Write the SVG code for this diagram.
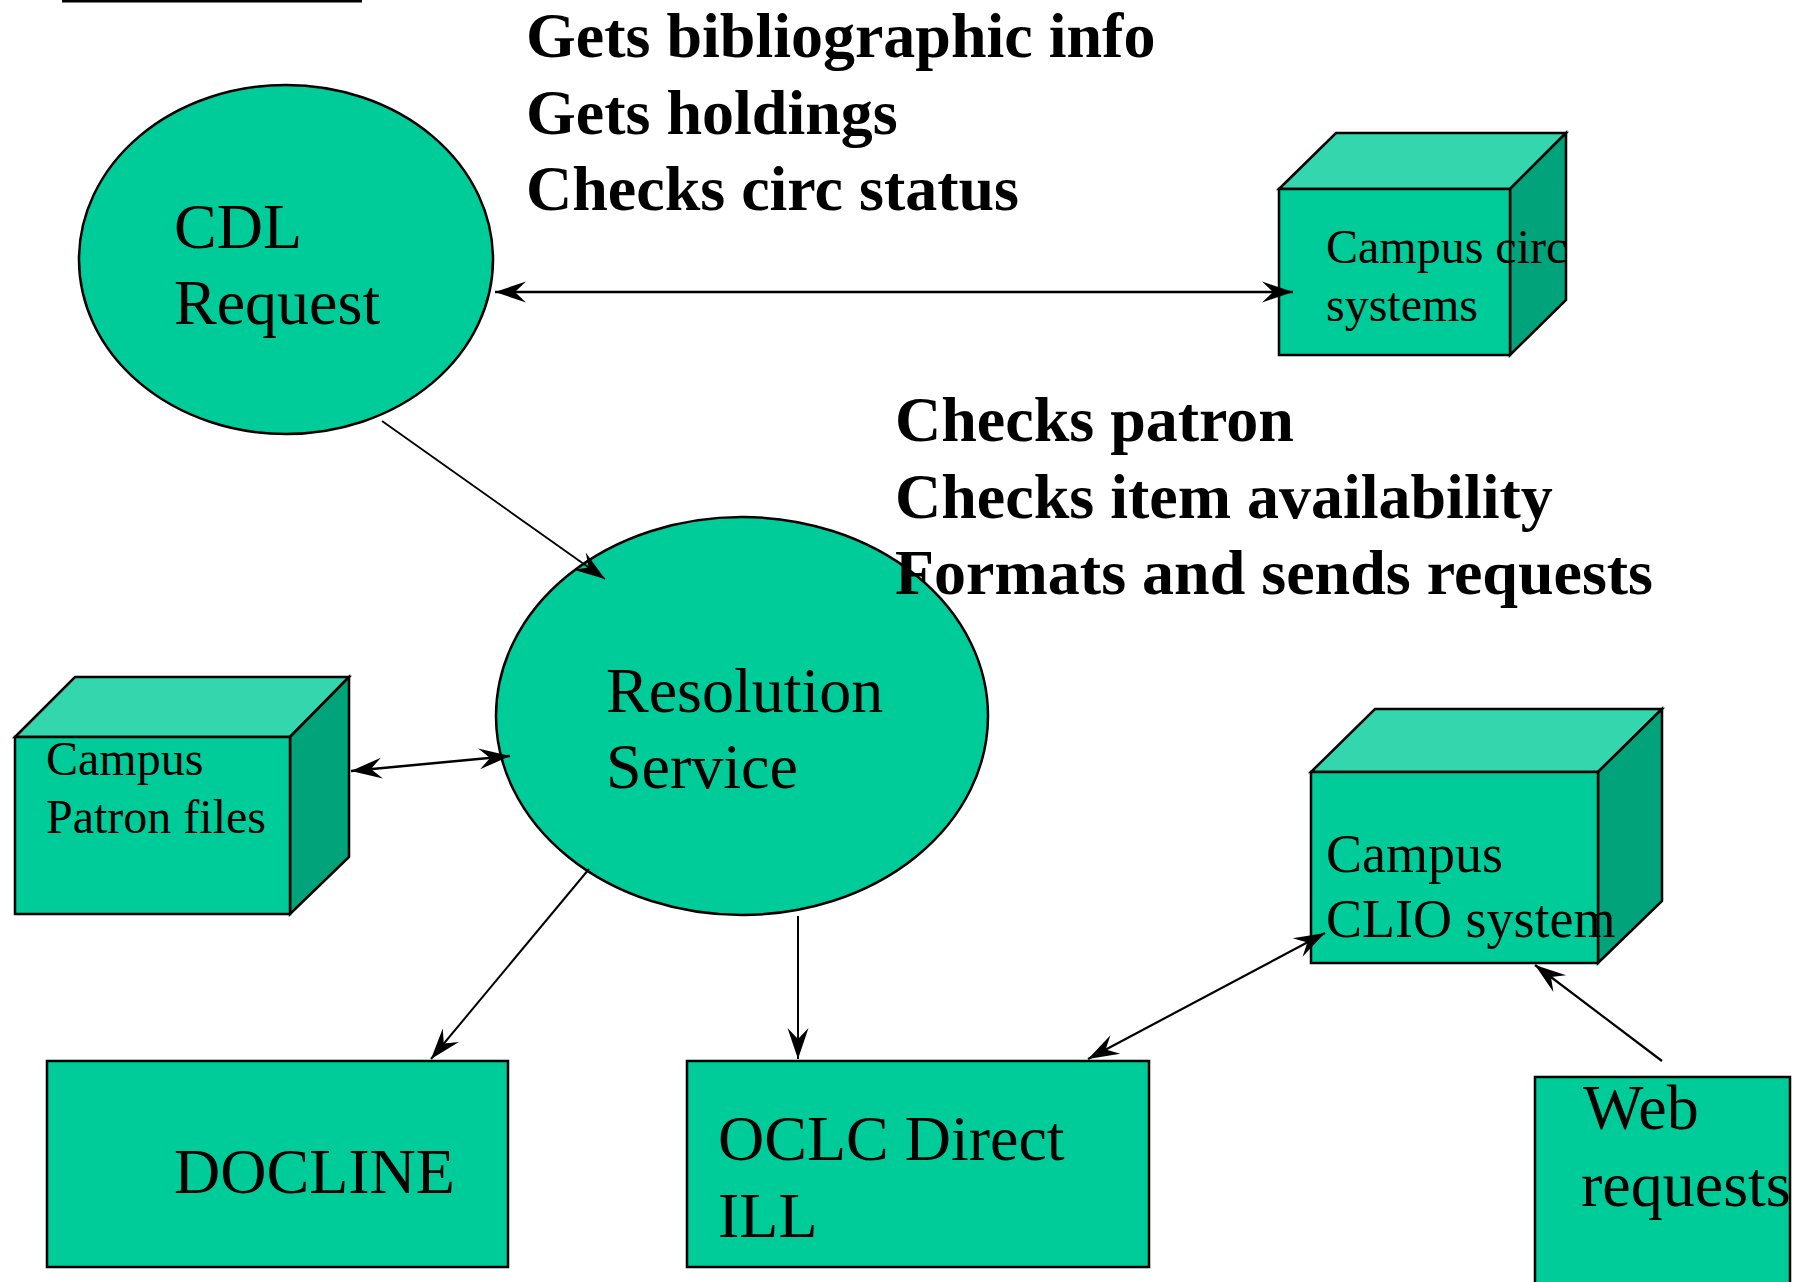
<svg xmlns="http://www.w3.org/2000/svg" width="1802" height="1282" viewBox="0 0 1802 1282">
<style>
.face{fill:#00CC99;stroke:#000;stroke-width:2.5;stroke-linejoin:miter}
.top{fill:#33D6AD;stroke:#000;stroke-width:2.5}
.side{fill:#00A37A;stroke:#000;stroke-width:2.5}
.lbl{font-family:"Liberation Serif","Times New Roman",serif;fill:#000}
.big{font-size:64px}
.bold{font-size:64px;font-weight:bold}
.conn{stroke:#000;fill:none}
</style>
<defs>
<marker id="ah" markerUnits="userSpaceOnUse" viewBox="-33 -12 35 24" refX="0" refY="0" markerWidth="35" markerHeight="24" orient="auto-start-reverse">
<path d="M0,0 L-31,-10.5 L-20,0 L-31,10.5 Z" fill="#000"/>
</marker>
</defs>
<rect x="0" y="0" width="1802" height="1282" fill="#fff"/>
<rect x="62" y="0" width="300" height="2.5" fill="#000"/>

<g id="cdl-request">
<ellipse class="face" cx="286" cy="259.5" rx="207" ry="174.5"/>
<text class="lbl big" x="174" y="248">CDL</text>
<text class="lbl big" x="174" y="324">Request</text>
</g>

<g id="resolution-service">
<ellipse class="face" cx="742" cy="716" rx="246" ry="199"/>
<text class="lbl big" x="606" y="712">Resolution</text>
<text class="lbl big" x="606" y="788">Service</text>
</g>

<g id="campus-circ">
<polygon class="top" points="1279,189 1336,133 1566,133 1510,189"/>
<polygon class="side" points="1510,189 1566,133 1566,300 1510,355"/>
<rect class="face" x="1279" y="189" width="231" height="166"/>
<text class="lbl" font-size="48" x="1326" y="263">Campus circ</text>
<text class="lbl" font-size="48" x="1326" y="321">systems</text>
</g>

<g id="campus-patron">
<polygon class="top" points="15,737 75,677 349,677 290,737"/>
<polygon class="side" points="290,737 349,677 349,857 290,914"/>
<rect class="face" x="15" y="737" width="275" height="177"/>
<text class="lbl" font-size="48" x="46" y="775">Campus</text>
<text class="lbl" font-size="48" x="46" y="833">Patron files</text>
</g>

<g id="campus-clio">
<polygon class="top" points="1311,772 1375,709 1662,709 1598,772"/>
<polygon class="side" points="1598,772 1662,709 1662,901 1598,963"/>
<rect class="face" x="1311" y="772" width="287" height="191"/>
<text class="lbl" font-size="54" x="1326" y="872">Campus</text>
<text class="lbl" font-size="54" x="1326" y="937">CLIO system</text>
</g>

<g id="docline">
<rect class="face" x="47" y="1061" width="461" height="206"/>
<text class="lbl big" x="174" y="1193">DOCLINE</text>
</g>

<g id="oclc">
<rect class="face" x="687" y="1061" width="462" height="206"/>
<text class="lbl big" x="718" y="1160">OCLC Direct</text>
<text class="lbl big" x="718" y="1237">ILL</text>
</g>

<g id="web-requests">
<rect class="face" x="1535" y="1077" width="255" height="230"/>
<text class="lbl big" x="1583" y="1129">Web</text>
<text class="lbl big" x="1581" y="1206">requests</text>
</g>

<g id="connectors">
<line class="conn" stroke-width="2.5" x1="495" y1="292" x2="1293" y2="292" marker-start="url(#ah)" marker-end="url(#ah)"/>
<line class="conn" stroke-width="1.8" x1="382" y1="421" x2="605" y2="579" marker-end="url(#ah)"/>
<line class="conn" stroke-width="2.5" x1="351" y1="771" x2="510" y2="756" marker-start="url(#ah)" marker-end="url(#ah)"/>
<line class="conn" stroke-width="2" x1="589" y1="869" x2="431" y2="1059" marker-end="url(#ah)"/>
<line class="conn" stroke-width="2" x1="798" y1="916" x2="798" y2="1059" marker-end="url(#ah)"/>
<line class="conn" stroke-width="2.2" x1="1088" y1="1059" x2="1325" y2="933" marker-start="url(#ah)" marker-end="url(#ah)"/>
<line class="conn" stroke-width="2.2" x1="1662" y1="1061" x2="1535" y2="965" marker-end="url(#ah)"/>
</g>

<g id="notes">
<text class="lbl bold" x="526" y="57">Gets bibliographic info</text>
<text class="lbl bold" x="526" y="134">Gets holdings</text>
<text class="lbl bold" x="526" y="210">Checks circ status</text>
<text class="lbl bold" x="895" y="441">Checks patron</text>
<text class="lbl bold" x="895" y="518">Checks item availability</text>
<text class="lbl bold" x="895" y="594">Formats and sends requests</text>
</g>
</svg>
